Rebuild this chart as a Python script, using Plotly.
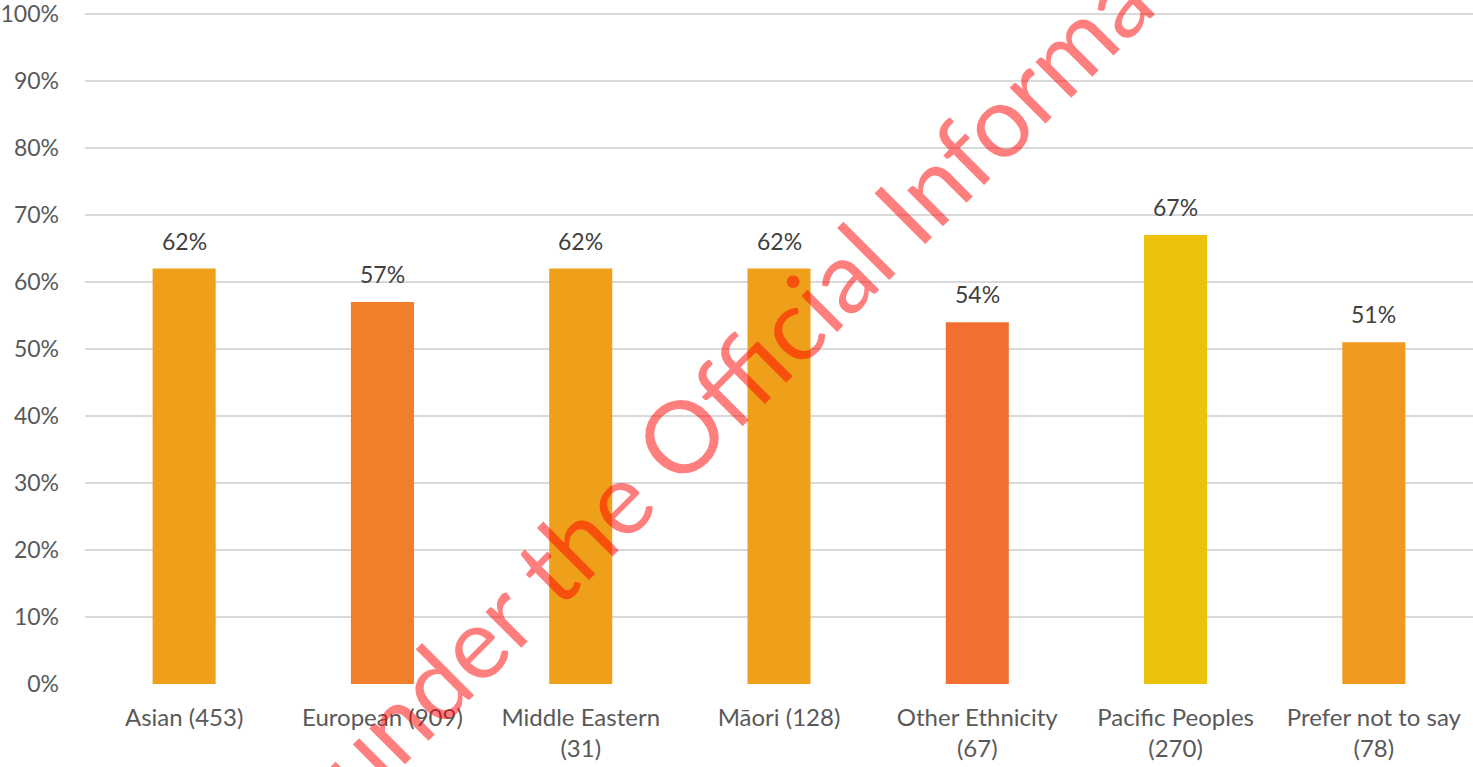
import plotly.graph_objects as go

# Share of respondents by ethnicity (sample size in brackets)
categories = [
    "Asian (453)",
    "European (909)",
    "Middle Eastern<br>(31)",
    "Māori (128)",
    "Other Ethnicity<br>(67)",
    "Pacific Peoples<br>(270)",
    "Prefer not to say<br>(78)",
]
values = [62, 57, 62, 62, 54, 67, 51]
bar_colors = ["#EFA01B", "#F07E2A", "#EFA01B", "#EFA01B", "#F36F30", "#EDC20C", "#F1991F"]
y_ticks = list(range(0, 101, 10))
y_tick_labels = [f"{t}%" for t in y_ticks]

FONT = "Lato"

fig = go.Figure(
    go.Bar(
        x=categories,
        y=values,
        marker=dict(color=bar_colors, line=dict(width=0)),
        hoverinfo="skip",
    )
)

# Value labels above each bar
for cat, v in zip(categories, values):
    fig.add_annotation(
        x=cat, y=v, xref="x", yref="y",
        text=f"{v}%", showarrow=False,
        yanchor="bottom", yshift=12,
        font=dict(family=FONT, size=23, color="#404040"),
    )

# Diagonal release watermark
fig.add_annotation(
    x=0.5144, y=0.549, xref="paper", yref="paper",
    text="Released under the Official Information Act 1982",
    showarrow=False, textangle=-45,
    font=dict(family=FONT, size=100, color="rgba(255,0,0,0.5)"),
)

fig.update_layout(
    width=1473, height=767,
    margin=dict(l=85, r=0, t=12, b=83),
    paper_bgcolor="white", plot_bgcolor="white",
    bargap=0.682,
    showlegend=False,
    font=dict(family=FONT, size=23, color="#595959"),
    xaxis=dict(
        showgrid=False, zeroline=False, showline=False,
        ticks="", tickfont=dict(family=FONT, size=24, color="#595959"),
        ticklabelstandoff=17,
    ),
    yaxis=dict(
        range=[0, 100.3], tickvals=y_ticks, ticktext=y_tick_labels,
        showgrid=True, gridcolor="#D9D9D9", gridwidth=1.5,
        zeroline=False, showline=False, ticks="",
        tickfont=dict(family=FONT, size=23, color="#595959"),
        ticklabelstandoff=25, ticklabeloverflow="allow",
    ),
)

fig.write_html("out.html")
